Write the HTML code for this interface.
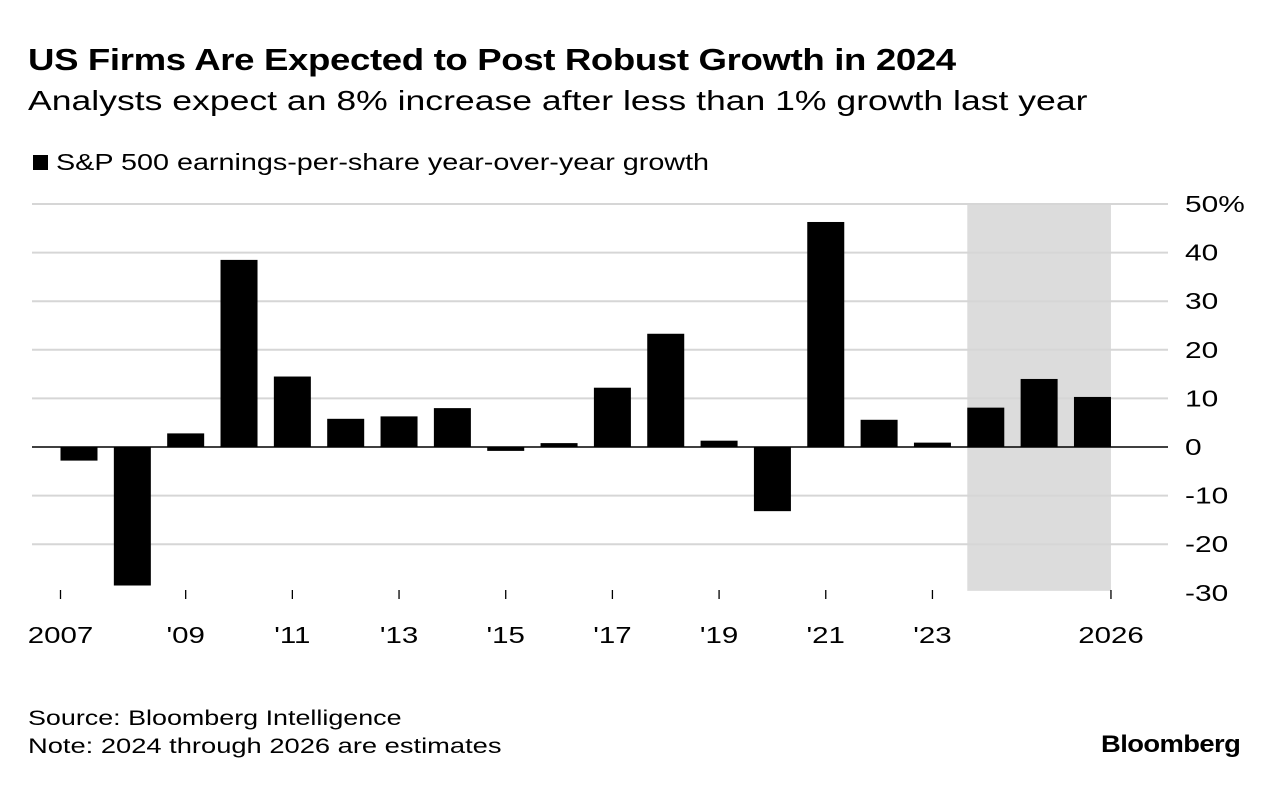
<!DOCTYPE html>
<html><head><meta charset="utf-8"><style>
body{margin:0;width:1279px;height:788px;background:#fff;font-family:"Liberation Sans",Arial,sans-serif;color:#000;overflow:hidden;position:relative}
.t{position:absolute;white-space:nowrap;transform-origin:0 0}
</style></head><body>
<div class="t" style="left:28px;top:42px;font-size:31px;font-weight:bold;letter-spacing:-0.3px;transform:scaleX(1.18)">US Firms Are Expected to Post Robust Growth in 2024</div>
<div class="t" style="left:28px;top:85px;font-size:28px;transform:scaleX(1.27)">Analysts expect an 8% increase after less than 1% growth last year</div>
<div class="t" style="left:33px;top:149px;font-size:23px"><span style="display:inline-block;width:15px;height:15px;background:#000;margin-right:8px"></span><span style="display:inline-block;transform-origin:0 0;transform:scaleX(1.25)">S&amp;P 500 earnings-per-share year-over-year growth</span></div>
<svg id="chart" width="1279" height="680" style="position:absolute;left:0;top:0"></svg>
<div class="t" style="left:28px;top:707px;font-size:21px;transform:scaleX(1.28)">Source: Bloomberg Intelligence</div>
<div class="t" style="left:28px;top:735px;font-size:21px;transform:scaleX(1.3)">Note: 2024 through 2026 are estimates</div>
<div class="t" style="left:1101px;top:731px;font-size:24px;font-weight:bold;letter-spacing:-0.5px;transform:scaleX(1.14)">Bloomberg</div>
<script>
const years=[2007,2008,2009,2010,2011,2012,2013,2014,2015,2016,2017,2018,2019,2020,2021,2022,2023,2024,2025,2026];
const values=[-2.8,-28.5,2.8,38.5,14.5,5.8,6.3,8,-0.8,0.8,12.2,23.3,1.3,-13.2,46.3,5.6,0.9,8.1,14,10.3];
const yTicks=[50,40,30,20,10,0,-10,-20,-30];
const yTickLabels=["50%","40","30","20","10","0","-10","-20","-30"];
const xTickYears=[2007,2009,2011,2013,2015,2017,2019,2021,2023,2026];
const xTickLabels=["2007","'09","'11","'13","'15","'17","'19","'21","'23","2026"];
const estStart=2024, estEnd=2026;
const svg=document.getElementById('chart');
const NS='http://www.w3.org/2000/svg';
const y=v=>447-v*4.86;
const xc=yr=>79+(yr-2007)*53.34;
const bw=37;
function mk(t,a){const e=document.createElementNS(NS,t);for(const k in a)e.setAttribute(k,a[k]);svg.appendChild(e);return e;}
function widen(t,f){const w=t.getComputedTextLength();t.setAttribute('textLength',w*f);t.setAttribute('lengthAdjust','spacingAndGlyphs');}
const band=mk('rect',{x:xc(estStart)-bw/2,y:y(50),width:xc(estEnd)-xc(estStart)+bw,height:y(-29.6)-y(50),fill:'#dcdcdc'});


yTicks.forEach((v,i)=>{
 if(v!==0){const g=mk('line',{x1:v===-30?1168:32,x2:1168,y1:y(v),y2:y(v),stroke:'#d6d6d6','stroke-width':2});
 
 }
 const t=mk('text',{x:1185,y:y(v)+8,'font-size':23});
 t.textContent=yTickLabels[i];
 
 
 widen(t,1.3);
});
years.forEach((yr,i)=>{
 const v=values[i];
 const r=mk('rect',{x:xc(yr)-bw/2,y:Math.min(y(v),y(0)),width:bw,height:Math.abs(y(v)-y(0)),fill:'#000'});
 
 
});
const z=mk('line',{x1:32,x2:1168,y1:y(0),y2:y(0),stroke:'#000','stroke-width':1.5});


xTickYears.forEach((yr,i)=>{
 let x=xc(yr);
 if(i===0)x=xc(yr)-bw/2;
 if(i===xTickYears.length-1)x=xc(yr)+bw/2;
 const l=mk('line',{x1:x,x2:x,y1:590,y2:599,stroke:'#000','stroke-width':1.3});
 
 
 const t=mk('text',{x:x,y:643,'font-size':23});
 t.textContent=xTickLabels[i];
 
 
 const w=t.getComputedTextLength()*1.28;
 t.setAttribute('textLength',w);
 t.setAttribute('lengthAdjust','spacingAndGlyphs');
 t.setAttribute('x',x-w/2);
});
</script>
</body></html>
